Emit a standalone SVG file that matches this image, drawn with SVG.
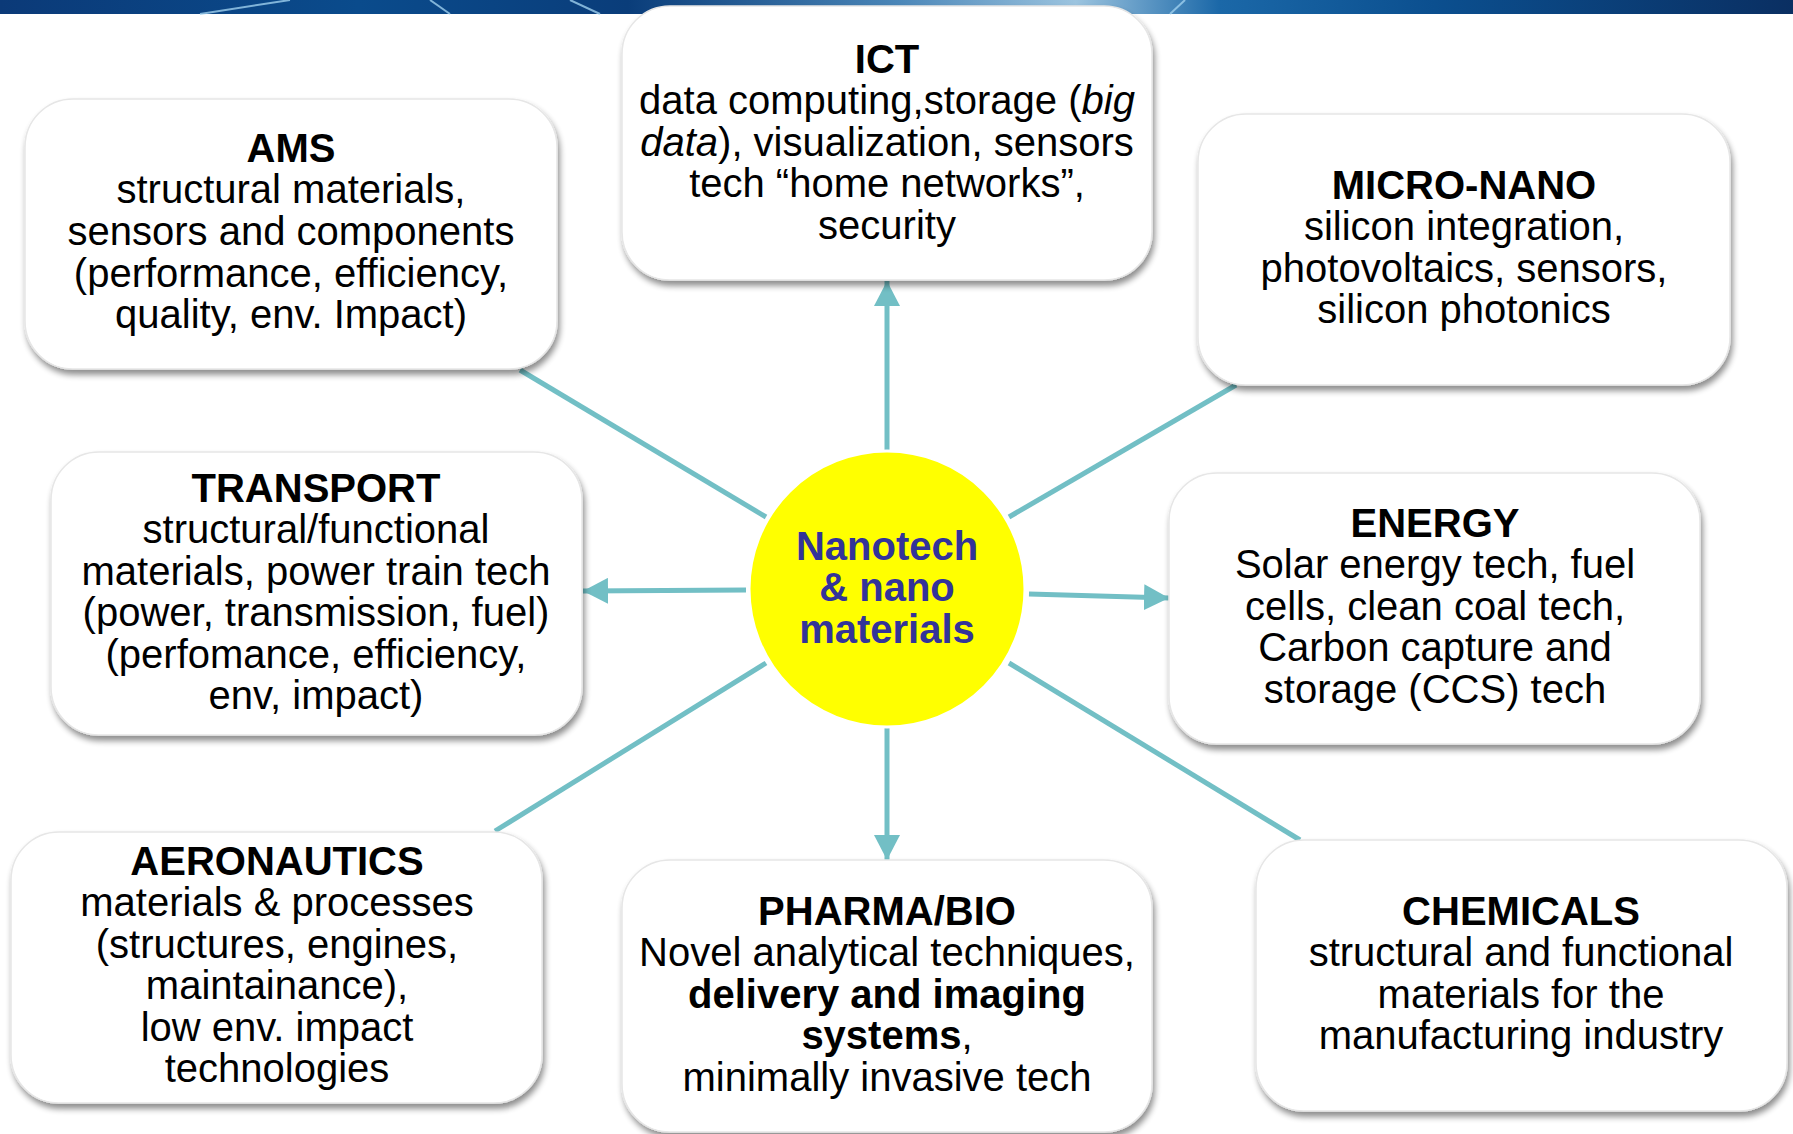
<svg xmlns="http://www.w3.org/2000/svg" width="1793" height="1134" viewBox="0 0 1793 1134">
<style>
.box{fill:#ffffff;stroke:#e6e6e6;stroke-width:1.5;filter:url(#sh)}
.t{font-family:"Liberation Sans",Arial,sans-serif;font-size:40px;fill:#000;text-anchor:middle}
.b{font-weight:bold}
.c{font-family:"Liberation Sans",Arial,sans-serif;font-size:40px;font-weight:bold;fill:#333399;text-anchor:middle}
.ln{stroke:#72bfc5;stroke-width:5;fill:none}
</style>
<defs>
<filter id="sh" x="-10%" y="-10%" width="125%" height="130%">
<feGaussianBlur in="SourceAlpha" stdDeviation="3"/>
<feOffset dx="2" dy="5" result="o"/>
<feComponentTransfer><feFuncA type="linear" slope="0.45"/></feComponentTransfer>
<feMerge><feMergeNode/><feMergeNode in="SourceGraphic"/></feMerge>
</filter>
<marker id="ah" markerUnits="userSpaceOnUse" markerWidth="26" markerHeight="26" viewBox="0 0 26 26" refX="25" refY="13" orient="auto">
<path d="M0,0 L25,13 L0,26 Z" fill="#72bfc5"/>
</marker>
<linearGradient id="bn" x1="0" y1="0" x2="1" y2="0">
<stop offset="0" stop-color="#0b3a78"/>
<stop offset="0.2" stop-color="#0a4b8c"/>
<stop offset="0.35" stop-color="#0a3d7a"/>
<stop offset="0.5" stop-color="#4a86b8"/>
<stop offset="0.6" stop-color="#9cc4df"/>
<stop offset="0.68" stop-color="#1b68a8"/>
<stop offset="0.8" stop-color="#0b4f8f"/>
<stop offset="1" stop-color="#0a2f62"/>
</linearGradient>
</defs>
<rect x="0" y="0" width="1793" height="14" fill="url(#bn)"/>
<g stroke="#9fd0ee" stroke-width="2" opacity="0.8">
<line x1="200" y1="14" x2="290" y2="0"/>
<line x1="430" y1="0" x2="450" y2="14"/>
<line x1="570" y1="0" x2="600" y2="14"/>
<line x1="1170" y1="14" x2="1185" y2="0"/>
</g>
<g id="connectors">
<line class="ln" x1="766" y1="517" x2="520" y2="370"/>
<line class="ln" x1="1009" y1="517" x2="1236" y2="385"/>
<line class="ln" x1="766" y1="663" x2="495" y2="831"/>
<line class="ln" x1="1009" y1="663" x2="1300" y2="840"/>
<line class="ln" x1="887" y1="451" x2="887" y2="281" marker-end="url(#ah)"/>
<line class="ln" x1="887" y1="728" x2="887" y2="860" marker-end="url(#ah)"/>
<line class="ln" x1="746" y1="590" x2="583" y2="591" marker-end="url(#ah)"/>
<line class="ln" x1="1029" y1="594" x2="1169" y2="598" marker-end="url(#ah)"/>
</g>
<g id="center">
<circle cx="887" cy="589" r="138" fill="#ffff00" stroke="#ffffff" stroke-width="3"/>
<text class="c" x="887" y="560">Nanotech</text>
<text class="c" x="887" y="601">&amp; nano</text>
<text class="c" x="887" y="643">materials</text>
</g>
<g id="ict">
<rect class="box" x="622" y="6" width="530" height="274" rx="48"/>
<text class="t b" x="887" y="73">ICT</text>
<text class="t" x="887" y="114">data computing,storage (<tspan font-style="italic">big</tspan></text>
<text class="t" x="887" y="156"><tspan font-style="italic">data</tspan>), visualization, sensors</text>
<text class="t" x="887" y="197">tech “home networks”,</text>
<text class="t" x="887" y="239">security</text>
</g>
<g id="ams">
<rect class="box" x="25" y="99" width="532" height="270" rx="48"/>
<text class="t b" x="291" y="162">AMS</text>
<text class="t" x="291" y="203">structural materials,</text>
<text class="t" x="291" y="245">sensors and components</text>
<text class="t" x="291" y="287">(performance, efficiency,</text>
<text class="t" x="291" y="328">quality, env. Impact)</text>
</g>
<g id="micronano">
<rect class="box" x="1198" y="114" width="532" height="271" rx="48"/>
<text class="t b" x="1464" y="199">MICRO-NANO</text>
<text class="t" x="1464" y="240">silicon integration,</text>
<text class="t" x="1464" y="282">photovoltaics, sensors,</text>
<text class="t" x="1464" y="323">silicon photonics</text>
</g>
<g id="transport">
<rect class="box" x="51" y="452" width="531" height="283" rx="48"/>
<text class="t b" x="316" y="502">TRANSPORT</text>
<text class="t" x="316" y="543">structural/functional</text>
<text class="t" x="316" y="585">materials, power train tech</text>
<text class="t" x="316" y="626">(power, transmission, fuel)</text>
<text class="t" x="316" y="668">(perfomance, efficiency,</text>
<text class="t" x="316" y="709">env, impact)</text>
</g>
<g id="energy">
<rect class="box" x="1169" y="473" width="531" height="271" rx="48"/>
<text class="t b" x="1435" y="537">ENERGY</text>
<text class="t" x="1435" y="578">Solar energy tech, fuel</text>
<text class="t" x="1435" y="620">cells, clean coal tech,</text>
<text class="t" x="1435" y="661">Carbon capture and</text>
<text class="t" x="1435" y="703">storage (CCS) tech</text>
</g>
<g id="aeronautics">
<rect class="box" x="11" y="832" width="531" height="271" rx="48"/>
<text class="t b" x="277" y="875">AERONAUTICS</text>
<text class="t" x="277" y="916">materials &amp; processes</text>
<text class="t" x="277" y="958">(structures, engines,</text>
<text class="t" x="277" y="999">maintainance),</text>
<text class="t" x="277" y="1041">low env. impact</text>
<text class="t" x="277" y="1082">technologies</text>
</g>
<g id="pharmabio">
<rect class="box" x="622" y="860" width="530" height="272" rx="48"/>
<text class="t b" x="887" y="925">PHARMA/BIO</text>
<text class="t" x="887" y="966">Novel analytical techniques,</text>
<text class="t b" x="887" y="1008">delivery and imaging</text>
<text class="t" x="887" y="1049"><tspan font-weight="bold">systems</tspan>,</text>
<text class="t" x="887" y="1091">minimally invasive tech</text>
</g>
<g id="chemicals">
<rect class="box" x="1256" y="840" width="531" height="271" rx="48"/>
<text class="t b" x="1521" y="925">CHEMICALS</text>
<text class="t" x="1521" y="966">structural and functional</text>
<text class="t" x="1521" y="1008">materials for the</text>
<text class="t" x="1521" y="1049">manufacturing industry</text>
</g>
</svg>
